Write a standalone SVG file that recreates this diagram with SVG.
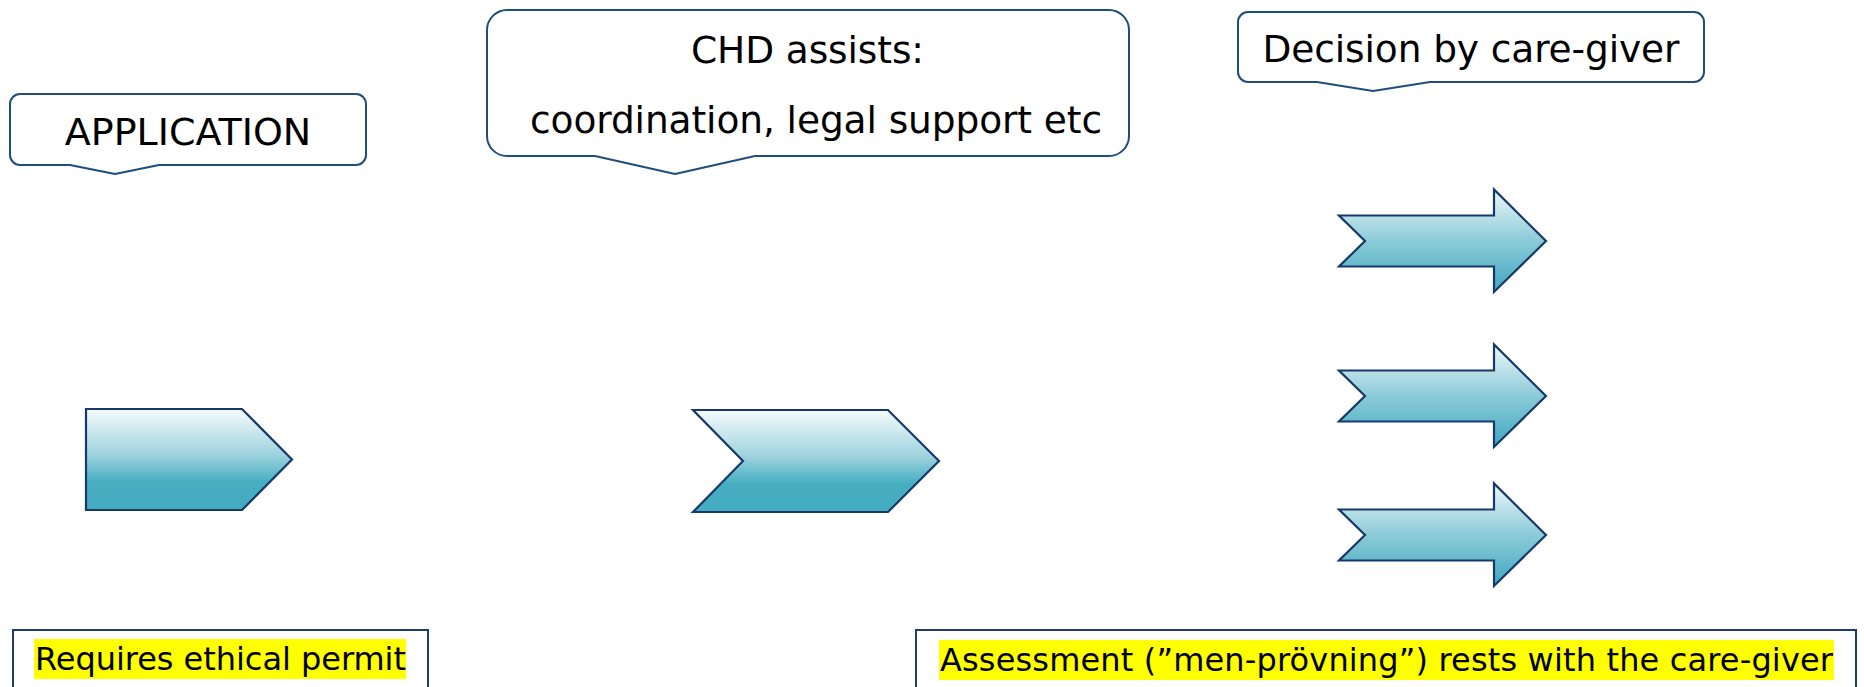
<svg xmlns="http://www.w3.org/2000/svg" width="1864" height="687" viewBox="0 0 1864 687">
  <style>
    .callout { fill: #ffffff; stroke: #1f4e7d; stroke-width: 2; stroke-linejoin: round; }
    .arrow { stroke: #17386a; stroke-width: 2.2; stroke-linejoin: miter; }
    .note { fill: #ffffff; stroke: #1b3d6b; stroke-width: 2; }
    .hl { fill: #ffff00; }
    .t { font-family: "DejaVu Sans", Verdana, sans-serif; fill: #000000; }
  </style>
  <defs>
    <linearGradient id="g1" x1="0" y1="0" x2="0" y2="1">
      <stop offset="0" stop-color="#f5fbfd"/>
      <stop offset="0.45" stop-color="#9fd3de"/>
      <stop offset="0.72" stop-color="#47aec2"/>
      <stop offset="1" stop-color="#44abc0"/>
    </linearGradient>
    <linearGradient id="g2" x1="0" y1="0" x2="0" y2="1">
      <stop offset="0" stop-color="#eef7fa"/>
      <stop offset="0.5" stop-color="#8ccbd8"/>
      <stop offset="1" stop-color="#3fa8be"/>
    </linearGradient>
  </defs>

  <g id="connectors"></g>

  <g id="callout-application">
    <path class="callout" d="M20,94 H356 A10,10 0 0 1 366,104 V155 A10,10 0 0 1 356,165 H159 L115,174 L70,165 H20 A10,10 0 0 1 10,155 V104 A10,10 0 0 1 20,94 Z"/>
    <text class="t" x="188" y="145" font-size="38" text-anchor="middle">APPLICATION</text>
  </g>

  <g id="callout-chd">
    <path class="callout" d="M507,10 H1109 A20,20 0 0 1 1129,30 V136 A20,20 0 0 1 1109,156 H755 L675,174 L595,156 H507 A20,20 0 0 1 487,136 V30 A20,20 0 0 1 507,10 Z"/>
    <text class="t" x="691" y="63" font-size="37.5" textLength="233">CHD assists:</text>
    <text class="t" x="530" y="133" font-size="37.5" textLength="572">coordination, legal support etc</text>
  </g>

  <g id="callout-decision">
    <path class="callout" d="M1248,12 H1694 A10,10 0 0 1 1704,22 V72 A10,10 0 0 1 1694,82 H1430 L1373,91 L1317,82 H1248 A10,10 0 0 1 1238,72 V22 A10,10 0 0 1 1248,12 Z"/>
    <text class="t" x="1471" y="62" font-size="37.5" text-anchor="middle" textLength="417">Decision by care-giver</text>
  </g>

  <g id="pentagon">
    <path class="arrow" fill="url(#g1)" d="M86,409 H242 L292,459.5 L242,510 H86 Z"/>
  </g>

  <g id="chevron">
    <path class="arrow" fill="url(#g1)" d="M693,410 H888 L939,461 L888,512 H693 L743,461 Z"/>
  </g>

  <g id="arrow-1">
    <path class="arrow" fill="url(#g2)" d="M1339,215.5 H1494 V189.5 L1546,241 L1494,292 V266.5 H1339 L1365,241 Z"/>
  </g>
  <g id="arrow-2">
    <path class="arrow" fill="url(#g2)" d="M1339,370.5 H1494 V344.5 L1546,396 L1494,447 V421.5 H1339 L1365,396 Z"/>
  </g>
  <g id="arrow-3">
    <path class="arrow" fill="url(#g2)" d="M1339,509.5 H1494 V483.5 L1546,535 L1494,586 V560.5 H1339 L1365,535 Z"/>
  </g>

  <g id="note-ethical">
    <rect class="note" x="13" y="630" width="415" height="70"/>
    <rect class="hl" x="34" y="639" width="372" height="40"/>
    <text class="t" x="35" y="670" font-size="32" textLength="371">Requires ethical permit</text>
  </g>

  <g id="note-assessment">
    <rect class="note" x="916" y="630" width="940" height="70"/>
    <rect class="hl" x="939" y="640" width="895" height="40"/>
    <text class="t" x="940" y="671" font-size="32" textLength="893">Assessment (”men-prövning”) rests with the care-giver</text>
  </g>
</svg>
